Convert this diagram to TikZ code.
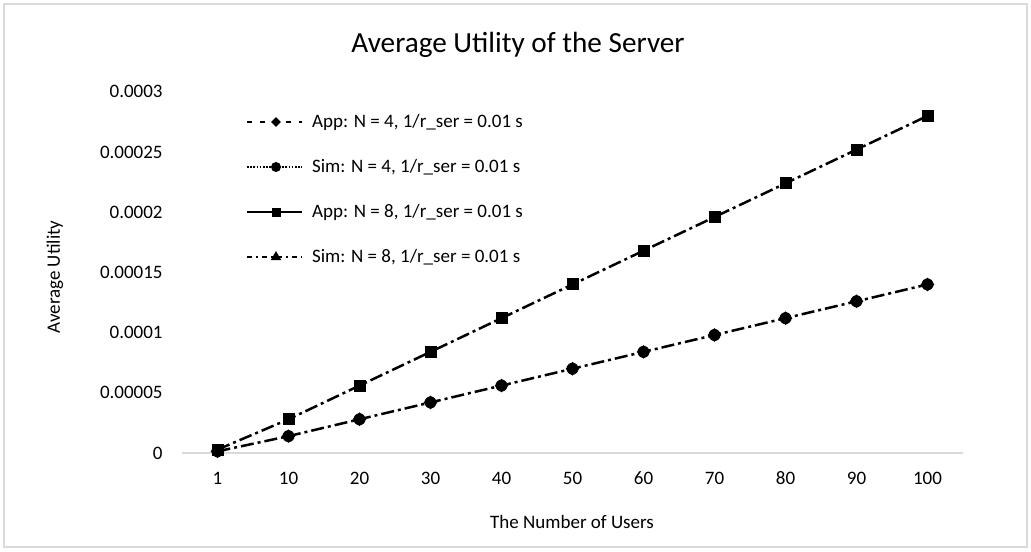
\documentclass[tikz,border=0pt]{standalone}
\usepackage{fontspec}
\setmainfont{Carlito}
\usetikzlibrary{shapes.geometric,positioning}
\definecolor{framegray}{HTML}{D9D9D9}

\begin{document}
\begin{tikzpicture}[x=0.5pt, y=-0.5pt, font=\fontsize{9.5}{11}\selectfont]
  \tikzstyle{series} = [line width=1.25pt, dash pattern=on 6.5pt off 2pt on 1.5pt off 2pt]
  \tikzstyle{keyline} = [line width=1pt]
  \tikzstyle{marker} = [fill=black, inner sep=0pt]
  \tikzstyle{sqmark} = [marker, rectangle, minimum size=6pt]
  \tikzstyle{dotmark} = [marker, circle, minimum size=6pt]
  \tikzstyle{diamark} = [marker, diamond, minimum size=7pt]
  \tikzstyle{trimark} = [marker, regular polygon, regular polygon sides=3, minimum size=6.5pt]
  \useasboundingbox (0,0) rectangle (1031,551);
  \draw[framegray, line width=0.75pt] (4,4) rectangle (1027,547);
  \node (title) at (518,45) {\fontsize{14.6}{17}\selectfont Average Utility of the Server};
  \coordinate (origin) at (182,453);
  \coordinate (xend) at (963,453);
  \draw[framegray, line width=1pt] (origin) -- (xend);
  \foreach \v [count=\k from 0] in {0,0.00005,0.0001,0.00015,0.0002,0.00025,0.0003}
    \node[anchor=east, inner sep=0pt] (ytick\k) at (163,{453-60.2*\k}) {\v};
  \foreach \n [count=\i from 0] in {1,10,20,30,40,50,60,70,80,90,100} {
    \node (xtick\i) at ({217.5+71*\i},478) {\n};
    \coordinate (four\i) at ({217.5+71*\i},{453-1.6856*\n});
    \coordinate (eight\i) at ({217.5+71*\i},{453-3.371*\n});
  }
  \node[rotate=90] (ylabel) at (55,277) {Average Utility};
  \node (xlabel) at (572,522) {The Number of Users};
  \draw[series] (four0) \foreach \i in {1,...,10} {-- (four\i)};
  \draw[series] (eight0) \foreach \i in {1,...,10} {-- (eight\i)};
  \foreach \i in {0,...,10} {
    \node[diamark] at (four\i) {};
    \node[dotmark] at (four\i) {};
    \node[trimark, yshift=-0.6pt] at (eight\i) {};
    \node[sqmark] at (eight\i) {};
  }
  \coordinate (keyA1) at (247,122); \coordinate (keyB1) at (302,122);
  \coordinate (keyA2) at (247,167); \coordinate (keyB2) at (302,167);
  \coordinate (keyA3) at (247,212); \coordinate (keyB3) at (302,212);
  \coordinate (keyA4) at (247,257); \coordinate (keyB4) at (302,257);
  \draw[keyline, dash pattern=on 2.5pt off 4pt] (keyA1) -- (keyB1);
  \draw[keyline, dash pattern=on 0.8pt off 0.8pt] (keyA2) -- (keyB2);
  \draw[keyline] (keyA3) -- (keyB3);
  \draw[keyline, dash pattern=on 2.5pt off 2pt on 1pt off 2pt] (keyA4) -- (keyB4);
  \node[diamark, minimum size=5pt] (key1) at (276,122) {};
  \node[dotmark, minimum size=5pt] (key2) at (276,167) {};
  \node[sqmark, minimum size=4.5pt] (key3) at (276,212) {};
  \node[trimark, minimum size=6pt] (key4) at (276,257) {};
  \node[anchor=west] (app4) at (305,122) {App: N = 4, 1/r\_ser = 0.01 s};
  \node[anchor=west] (sim4) at (305,167) {Sim: N = 4, 1/r\_ser = 0.01 s};
  \node[anchor=west] (app8) at (305,212) {App: N = 8, 1/r\_ser = 0.01 s};
  \node[anchor=west] (sim8) at (305,257) {Sim: N = 8, 1/r\_ser = 0.01 s};
\end{tikzpicture}
\end{document}
